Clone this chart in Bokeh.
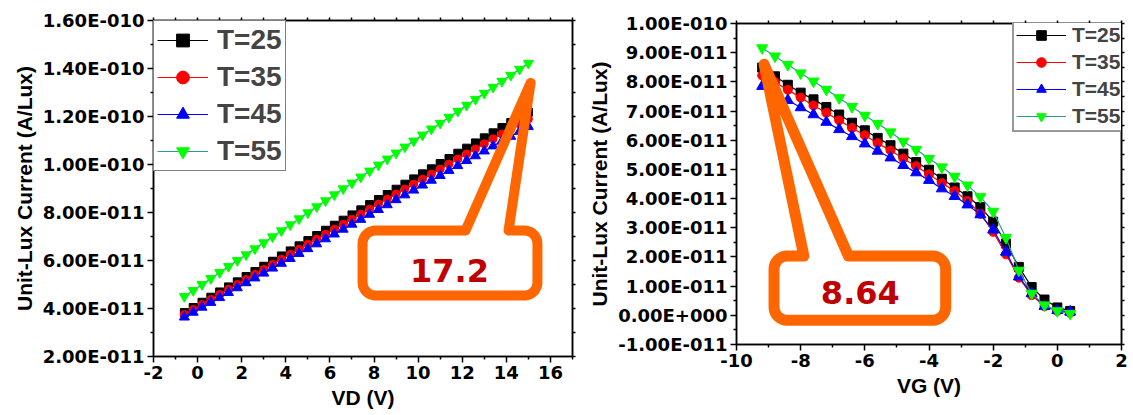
import math

from bokeh.embed import file_html
from bokeh.layouts import column, row
from bokeh.models import FixedTicker, Label, Legend, LegendItem, LinearAxis, Range1d
from bokeh.plotting import figure
from bokeh.resources import INLINE

# ---------------------------------------------------------------------------
# Data (currents in units of 1e-11 A/Lux)
# ---------------------------------------------------------------------------
temps = ["T=25", "T=35", "T=45", "T=55"]

vd = [-0.6, -0.2, 0.2, 0.6, 1.0, 1.4, 1.8, 2.2, 2.6, 3.0,
      3.4, 3.8, 4.2, 4.6, 5.0, 5.4, 5.8, 6.2, 6.6, 7.0,
      7.4, 7.8, 8.2, 8.6, 9.0, 9.4, 9.8, 10.2, 10.6, 11.0,
      11.4, 11.8, 12.2, 12.6, 13.0, 13.4, 13.8, 14.2, 14.6, 15.0]

vd_t25 = [3.83, 4.04, 4.26, 4.47, 4.69, 4.90, 5.11, 5.33, 5.54, 5.76,
          5.97, 6.19, 6.40, 6.61, 6.83, 7.04, 7.26, 7.47, 7.68, 7.90,
          8.11, 8.33, 8.54, 8.75, 8.97, 9.18, 9.40, 9.61, 9.82, 10.04,
          10.25, 10.47, 10.68, 10.90, 11.11, 11.32, 11.54, 11.75, 11.97, 12.18]
vd_t35 = [3.75, 3.96, 4.17, 4.38, 4.59, 4.80, 5.00, 5.21, 5.42, 5.63,
          5.84, 6.05, 6.26, 6.47, 6.68, 6.89, 7.09, 7.30, 7.51, 7.72,
          7.93, 8.14, 8.35, 8.56, 8.77, 8.98, 9.18, 9.39, 9.60, 9.81,
          10.02, 10.23, 10.44, 10.65, 10.86, 11.07, 11.27, 11.48, 11.69, 11.90]
vd_t45 = [3.64, 3.84, 4.05, 4.25, 4.45, 4.66, 4.86, 5.07, 5.27, 5.47,
          5.68, 5.88, 6.08, 6.29, 6.49, 6.69, 6.90, 7.10, 7.30, 7.51,
          7.71, 7.92, 8.12, 8.32, 8.53, 8.73, 8.93, 9.14, 9.34, 9.54,
          9.75, 9.95, 10.16, 10.36, 10.56, 10.77, 10.97, 11.17, 11.38, 11.58]
vd_t55 = [4.50, 4.75, 5.00, 5.25, 5.50, 5.75, 6.00, 6.24, 6.49, 6.74,
          6.99, 7.24, 7.49, 7.74, 7.99, 8.24, 8.49, 8.74, 8.99, 9.23,
          9.48, 9.73, 9.98, 10.23, 10.48, 10.73, 10.98, 11.23, 11.48, 11.72,
          11.97, 12.22, 12.47, 12.72, 12.97, 13.22, 13.47, 13.72, 13.97, 14.22]

vg = [-9.2, -8.8, -8.4, -8.0, -7.6, -7.2, -6.8, -6.4, -6.0, -5.6,
      -5.2, -4.8, -4.4, -4.0, -3.6, -3.2, -2.8, -2.4, -2.0, -1.6,
      -1.2, -0.8, -0.4, 0.0, 0.4]

vg_t25 = [8.49, 8.19, 7.90, 7.63, 7.40, 7.14, 6.88, 6.60, 6.34, 6.08,
          5.83, 5.54, 5.25, 4.99, 4.68, 4.38, 4.08, 3.71, 3.21, 2.46,
          1.66, 0.97, 0.54, 0.27, 0.15]
vg_t35 = [8.22, 7.99, 7.73, 7.46, 7.19, 6.94, 6.68, 6.42, 6.17, 5.90,
          5.65, 5.37, 5.11, 4.83, 4.53, 4.26, 3.92, 3.48, 2.86, 2.09,
          1.29, 0.69, 0.31, 0.15, 0.08]
vg_t45 = [7.85, 7.60, 7.37, 7.12, 6.88, 6.62, 6.37, 6.13, 5.88, 5.63,
          5.40, 5.14, 4.89, 4.63, 4.34, 4.08, 3.79, 3.45, 2.93, 2.17,
          1.32, 0.75, 0.31, 0.17, 0.12]
vg_t55 = [9.16, 8.88, 8.59, 8.30, 8.02, 7.74, 7.45, 7.15, 6.85, 6.57,
          6.28, 5.96, 5.68, 5.37, 5.08, 4.76, 4.46, 4.06, 3.56, 2.66,
          1.54, 0.75, 0.35, 0.15, 0.06]

# Axis ticks
vd_ticks = [-2, 0, 2, 4, 6, 8, 10, 12, 14, 16]
vd_i_ticks = [2, 4, 6, 8, 10, 12, 14, 16]
vg_ticks = [-10, -8, -6, -4, -2, 0, 2]
vg_i_ticks = [-1, 0, 1, 2, 3, 4, 5, 6, 7, 8, 9, 10]

# Callout values
vd_callout = "17.2"
vg_callout = "8.64"

# ---------------------------------------------------------------------------
# Styling
# ---------------------------------------------------------------------------
LINE_COLORS = ["#000000", "#ff0000", "#0000ff", "#2a9a9a"]
MARK_COLORS = ["#000000", "#ff0000", "#0000ff", "#00ff00"]
MARKERS = ["square", "circle", "triangle", "inverted_triangle"]
ORANGE = "#ff6600"
TICK_FONT = "DejaVu Sans"
TITLE_FONT = "Liberation Sans"


def origin_sci(v):
    """Format a value given in 1e-11 units the way Origin prints it."""
    val = v * 1e-11
    if v == 0:
        return "0.00E+000"
    mant, exp = f"{val:.2E}".split("E")
    e = int(exp)
    return f"{mant}E{'-' if e < 0 else '+'}{abs(e):03d}"


def steps(lo, hi, step):
    out, v = [], lo
    while v <= hi + 1e-9:
        out.append(round(v, 6))
        v += step
    return out


def style_axis(ax, major, minor, labels):
    ax.ticker = FixedTicker(ticks=major, minor_ticks=minor)
    ax.major_label_overrides = labels
    ax.axis_line_width = 1.5
    ax.axis_line_color = "black"
    ax.major_tick_line_width = 1.5
    ax.minor_tick_line_width = 1.5
    ax.major_tick_in = 0
    ax.minor_tick_in = 0
    ax.major_tick_out = 6
    ax.minor_tick_out = 3
    ax.major_label_text_font = TICK_FONT
    ax.major_label_text_font_style = "bold"
    ax.major_label_text_font_size = "18px"
    ax.major_label_text_color = "black"
    ax.major_label_standoff = 3
    ax.axis_label_text_font = TITLE_FONT
    ax.axis_label_text_font_style = "bold"
    ax.axis_label_text_font_size = "21px"
    ax.axis_label_text_color = "black"
    ax.axis_label_standoff = 4


def mirror_axis(p, where, ticks):
    # unlabeled opposite axis: only (minor) tick marks, no tick labels
    ax = LinearAxis()
    ax.ticker = FixedTicker(ticks=[], minor_ticks=ticks)
    ax.axis_line_width = 1.5
    ax.minor_tick_line_width = 1.5
    ax.minor_tick_in = 0
    ax.minor_tick_out = 3
    ax.major_label_standoff = 0
    p.add_layout(ax, where)


def callout(p, x0, x1, y0, y1, bx0, bx1, tip, r_px, sx, sy, width):
    """Rounded box with a pointer wedge, outline only."""
    rx, ry = r_px / sx, r_px / sy
    xs, ys = [bx0, tip[0], bx1], [y1, tip[1], y1]

    def arc(cx, cy, a0, a1):
        for k in range(9):
            a = math.radians(a0 + (a1 - a0) * k / 8)
            xs.append(cx + rx * math.cos(a))
            ys.append(cy + ry * math.sin(a))

    arc(x1 - rx, y1 - ry, 90, 0)
    arc(x1 - rx, y0 + ry, 0, -90)
    arc(x0 + rx, y0 + ry, -90, -180)
    arc(x0 + rx, y1 - ry, 180, 90)
    xs.append(bx0)
    ys.append(y1)
    p.patch(xs, ys, fill_alpha=0, line_color=ORANGE, line_width=width,
            line_join="round")


def add_series(p, x, series, sizes):
    renderers = []
    for ys, lc, mc, mk, sz in zip(series, LINE_COLORS, MARK_COLORS, MARKERS, sizes):
        ln = p.line(x, ys, line_color=lc, line_width=1.2)
        sc = p.scatter(x, ys, marker=mk, size=sz, fill_color=mc, line_color=mc)
        renderers.append([ln, sc])
    return renderers


# ---------------------------------------------------------------------------
# Left panel: current vs drain voltage
# ---------------------------------------------------------------------------
left = figure(width=585, height=415, output_backend="svg", toolbar_location=None,
              x_range=Range1d(-2, 17), y_range=Range1d(2, 16),
              min_border_left=153, min_border_right=13,
              min_border_top=20, min_border_bottom=59)
left.grid.visible = False
left.outline_line_color = "black"
left.outline_line_width = 1.5
style_axis(left.xaxis[0], vd_ticks, steps(-1, 17, 2), {t: str(t) for t in vd_ticks})
style_axis(left.yaxis[0], vd_i_ticks, steps(3, 15, 2), {t: origin_sci(t) for t in vd_i_ticks})
left.xaxis[0].axis_label = "VD (V)"
left.yaxis[0].axis_label = "Unit-Lux Current (A/Lux)"
mirror_axis(left, "above", steps(-2, 17, 1))
mirror_axis(left, "right", steps(2, 16, 1))

l_rs = add_series(left, vd, [vd_t25, vd_t35, vd_t45, vd_t55], [8, 8, 10, 10])

l_sx, l_sy = 419 / 19, 336 / 14
callout(left, 7.48, 15.41, 4.54, 7.25, 12.15, 14.10, (15.10, 13.40), 13,
        l_sx, l_sy, 10)
left.add_layout(Label(x=11.42, y=5.60, text=vd_callout, text_align="center",
                      text_baseline="middle", text_font="DejaVu Sans",
                      text_font_style="bold", text_font_size="32px",
                      text_color="#c00000"))

left_legend = Legend(items=[LegendItem(label=t, renderers=r) for t, r in zip(temps, l_rs)],
                     location="top_left", margin=0, padding=3, spacing=5,
                     glyph_width=51, glyph_height=32, label_height=32,
                     label_standoff=9, label_text_font=TITLE_FONT,
                     label_text_font_style="bold", label_text_font_size="28px",
                     border_line_color="black", border_line_width=1.5,
                     background_fill_alpha=1)
left.add_layout(left_legend)

# ---------------------------------------------------------------------------
# Right panel: current vs gate voltage
# ---------------------------------------------------------------------------
right = figure(width=548, height=415, output_backend="svg", toolbar_location=None,
               x_range=Range1d(-10, 2), y_range=Range1d(-1, 10),
               min_border_left=147, min_border_right=12,
               min_border_top=23, min_border_bottom=71)
right.grid.visible = False
right.outline_line_color = "black"
right.outline_line_width = 1.5
style_axis(right.xaxis[0], vg_ticks, steps(-9, 1, 2), {t: str(t) for t in vg_ticks})
style_axis(right.yaxis[0], vg_i_ticks, steps(-0.5, 9.5, 1), {t: origin_sci(t) for t in vg_i_ticks})
right.xaxis[0].axis_label = "VG (V)"
right.yaxis[0].axis_label = "Unit-Lux Current (A/Lux)"
mirror_axis(right, "above", steps(-10, 2, 1))
mirror_axis(right, "right", steps(-1, 10, 0.5))

r_rs = add_series(right, vg, [vg_t25, vg_t35, vg_t45, vg_t55], [9, 9, 11, 11])

r_sx, r_sy = 389 / 12, 321 / 11
callout(right, -8.83, -3.48, -0.167, 2.03, -7.90, -6.51, (-9.14, 8.60), 13,
        r_sx, r_sy, 11)
right.add_layout(Label(x=-6.14, y=0.775, text=vg_callout, text_align="center",
                       text_baseline="middle", text_font="DejaVu Sans",
                       text_font_style="bold", text_font_size="32px",
                       text_color="#c00000"))

right_legend = Legend(items=[LegendItem(label=t, renderers=r) for t, r in zip(temps, r_rs)],
                      location=(276, 212), margin=0, padding=2, spacing=3,
                      glyph_width=50, glyph_height=24, label_height=24,
                      label_standoff=6, label_text_font=TITLE_FONT,
                      label_text_font_style="bold", label_text_font_size="21px",
                      border_line_color="#333333", border_line_width=2,
                      background_fill_alpha=1)
right.add_layout(right_legend)

# separate columns keep each panel's borders independent
layout = row(column(left), column(right), spacing=0)
open("out.html", "w").write(file_html(layout, INLINE))
